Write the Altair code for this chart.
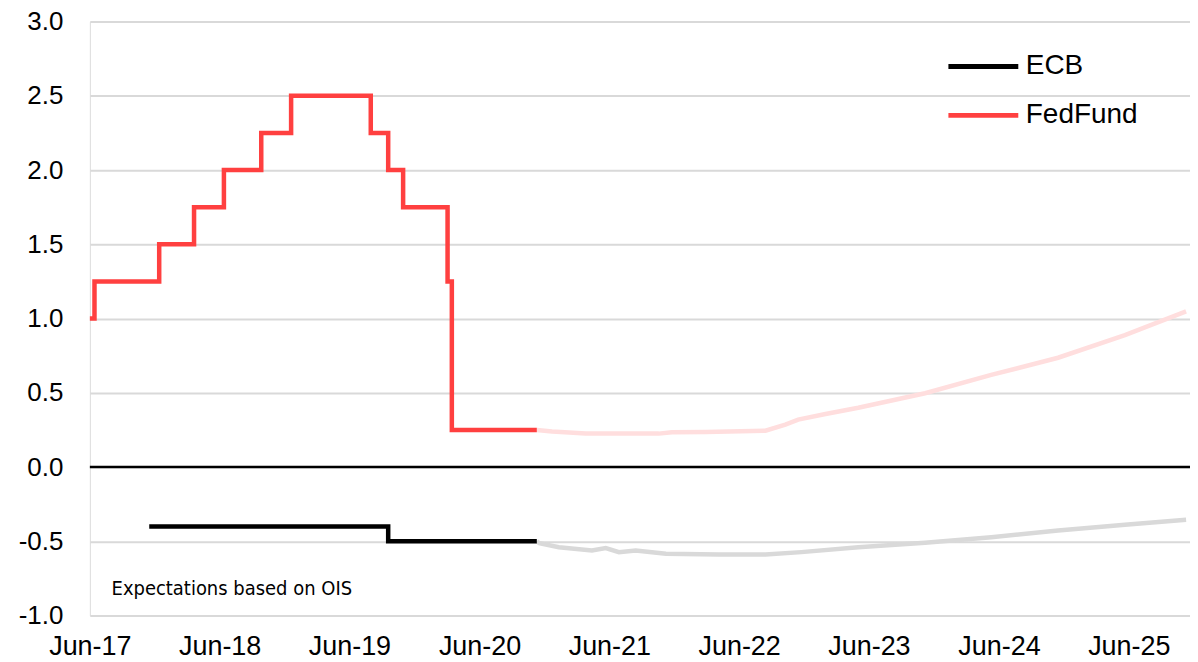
import altair as alt
import pandas as pd

# ---- data ----
fed_dates = ["2017-06-01", "2017-06-14", "2017-12-13", "2018-03-21", "2018-06-13",
             "2018-09-26", "2018-12-19", "2019-07-31", "2019-09-18", "2019-10-30",
             "2020-03-03", "2020-03-15", "2020-11-09"]
fed_values = [1.00, 1.25, 1.50, 1.75, 2.00, 2.25, 2.50, 2.25, 2.00, 1.75, 1.25, 0.25, 0.25]

ecb_dates = ["2017-11-15", "2019-09-18", "2020-11-09"]
ecb_values = [-0.40, -0.50, -0.50]

fed_fc_dates = ["2020-11-09", "2020-12-22", "2021-03-27", "2021-06-28", "2021-10-18",
                "2021-11-24", "2022-02-27", "2022-08-14", "2022-10-09", "2022-11-14",
                "2023-01-30", "2023-05-02", "2023-11-06", "2024-05-10", "2024-11-14",
                "2025-05-21", "2025-11-09"]
fed_fc_values = [0.25, 0.24, 0.225, 0.225, 0.225, 0.234, 0.236, 0.245, 0.286, 0.319,
                 0.357, 0.399, 0.497, 0.620, 0.736, 0.888, 1.048]

ecb_fc_dates = ["2020-11-09", "2020-11-16", "2021-01-10", "2021-04-13", "2021-05-22",
                "2021-06-28", "2021-08-14", "2021-11-07", "2022-04-04", "2022-08-14",
                "2022-11-23", "2023-05-02", "2023-11-06", "2024-05-10", "2024-11-14",
                "2025-05-21", "2025-11-09"]
ecb_fc_values = [-0.50, -0.513, -0.540, -0.562, -0.546, -0.573, -0.562, -0.584, -0.589,
                 -0.589, -0.573, -0.540, -0.510, -0.473, -0.428, -0.388, -0.355]

series_names = ["ECB", "FedFund"]
tick_years = list(range(2017, 2026))
y_ticks = [-1.0, -0.5, 0.0, 0.5, 1.0, 1.5, 2.0, 2.5, 3.0]

ann_dates = ["2017-08-01"]
ann_values = [-0.865]
ann_texts = ["Expectations based on OIS"]

zero_values = [0.0]

# ---- tables ----
hist = pd.concat([
    pd.DataFrame({"date": ecb_dates, "value": ecb_values, "series": "ECB"}),
    pd.DataFrame({"date": fed_dates, "value": fed_values, "series": "FedFund"}),
], ignore_index=True)
fed_fc = pd.DataFrame({"date": fed_fc_dates, "value": fed_fc_values})
ecb_fc = pd.DataFrame({"date": ecb_fc_dates, "value": ecb_fc_values})
ann = pd.DataFrame({"date": ann_dates, "value": ann_values, "label": ann_texts})
zero = pd.DataFrame({"value": zero_values})

FONT = "Liberation Sans"

xscale = alt.Scale(type="utc", domain=[alt.DateTime(year=2017, month=6, date=1, utc=True),
                                       alt.DateTime(year=2025, month=11, date=20, utc=True)])
xaxis = alt.Axis(values=[alt.DateTime(year=y, month=6, date=1, utc=True) for y in tick_years],
                 labelExpr="utcFormat(datum.value, '%b-%y')",
                 grid=False, ticks=False, domain=False,
                 labelFont=FONT, labelFontSize=27, labelColor="#000000", labelPadding=18,
                 labelFlush=False, labelOverlap=False, title=None)
yscale = alt.Scale(domain=[-1, 3], nice=False, zero=False)
yaxis = alt.Axis(values=y_ticks, grid=True, gridColor="#d9d9d9", gridWidth=2,
                 ticks=False, domain=False, labelFont=FONT, labelFontSize=26,
                 labelColor="#000000", labelPadding=27,
                 labelExpr="datum.value < 0 ? '-' + format(-datum.value, '.1f') : format(datum.value, '.1f')",
                 title=None)

X = alt.X("date:T", scale=xscale, axis=xaxis)
Y = alt.Y("value:Q", scale=yscale, axis=yaxis)

zero_rule = alt.Chart(zero).mark_rule(color="#000000", strokeWidth=2.5).encode(y=Y)

fed_fc_line = alt.Chart(fed_fc).mark_line(color="#FFDEDE", strokeWidth=4.5).encode(x=X, y=Y)
ecb_fc_line = alt.Chart(ecb_fc).mark_line(color="#D9D9D9", strokeWidth=4.5).encode(x=X, y=Y)

hist_lines = alt.Chart(hist).mark_line(interpolate="step-after", strokeWidth=4.5).encode(
    x=X, y=Y,
    color=alt.Color("series:N",
                    scale=alt.Scale(domain=series_names, range=["#000000", "#FF4040"]),
                    legend=alt.Legend(orient="none", legendX=892.5, legendY=25, title=None,
                                      symbolType="M-3,0H1", symbolSize=1225,
                                      symbolStrokeWidth=5, labelFont=FONT, labelFontSize=28,
                                      labelColor="#000000", labelOffset=5, rowPadding=15,
                                      padding=0)),
)

note = alt.Chart(ann).mark_text(align="left", baseline="alphabetic", fontSize=20,
                                font="DejaVu Sans Condensed, Lato", color="#000000").encode(
    x=X, y=Y, text="label:N")

chart = alt.layer(zero_rule, fed_fc_line, ecb_fc_line, hist_lines, note).properties(
    width=1102, height=595,
    padding={"left": 82, "top": 13, "right": 0, "bottom": 46},
    autosize=alt.AutoSizeParams(type="none"),
).configure_view(stroke=None).configure(background="white")

chart.save("out.html", embed_options={"renderer": "svg", "actions": False})
